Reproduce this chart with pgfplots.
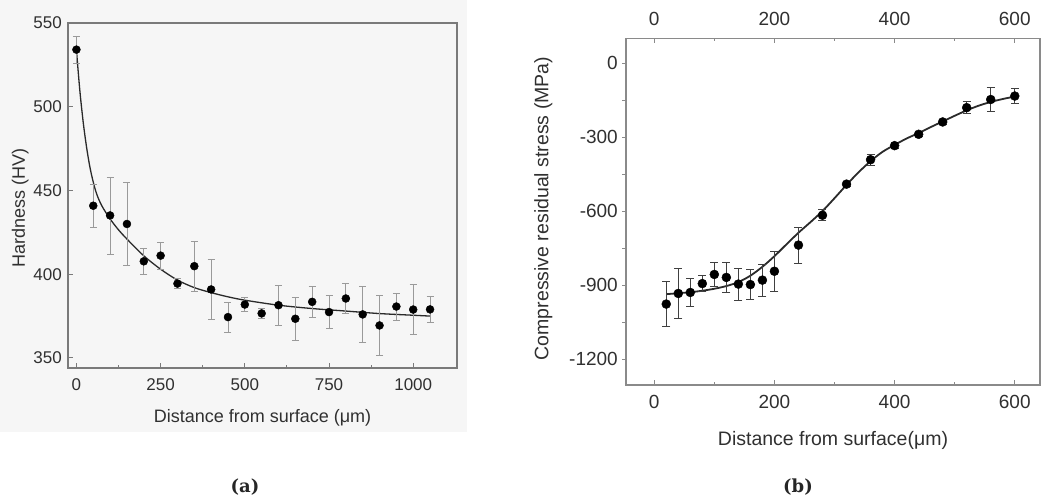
\documentclass[border=0pt]{standalone}
\usepackage{fontspec}
\setmainfont{Liberation Sans}
\newfontfamily\capfont{DejaVu Serif}
\usepackage{pgfplots}
\pgfplotsset{compat=1.18}
\definecolor{txt}{HTML}{303030}
\definecolor{bgA}{HTML}{F6F6F6}
\definecolor{axA}{HTML}{7A7A7A}
\definecolor{axB}{HTML}{8A8A8A}
\definecolor{errA}{HTML}{9A9A9A}
\definecolor{errB}{HTML}{404040}
\definecolor{curve}{HTML}{2A2A2A}

\begin{document}
\begin{tikzpicture}[x=1pt,y=1pt]
\path[use as bounding box] (0,0) rectangle (1045,-500);
\fill[bgA] (0,0) rectangle (467,-432);

% ---------------- panel (a) ----------------
\begin{axis}[
  at={(68pt,-368pt)}, anchor=south west, scale only axis,
  width=389pt, height=345pt,
  xmin=-25, xmax=1130, ymin=344, ymax=550,
  axis line style={draw=axA, line width=1.4pt},
  tick style={draw=axA, line width=1pt},
  tick align=inside, xtick pos=bottom, ytick pos=left,
  major tick length=5pt, minor tick length=3pt,
  xtick={0,250,500,750,1000}, minor x tick num=1,
  ytick={350,400,450,500,550},
  /pgf/number format/assume math mode=true,
  /pgf/number format/1000 sep={},
  tick label style={font=\fontsize{17}{20}\selectfont, text=txt, inner sep=0pt},
  xticklabel style={anchor=base, yshift=-22pt},
  yticklabel style={anchor=east, xshift=-6pt},
  xlabel={Distance from surface (μm)},
  ylabel={Hardness (HV)},
  label style={font=\fontsize{18}{21}\selectfont, text=txt, inner sep=0pt},
  xlabel style={at={(axis description cs:0.5,0)}, anchor=base, yshift=-54pt},
  ylabel style={at={([xshift=-43pt]axis description cs:0,0.464)}, anchor=base},
  clip=false,
]
\addplot[curve, line width=1.3pt, smooth, tension=0.5] coordinates {
 (0,534) (10,510) (20,491) (30,476) (40,464) (50,455) (60,448) (75,441)
 (100,433) (125,426.5) (150,421) (200,411) (250,403) (300,396.5) (350,392)
 (400,389) (450,386.5) (500,384.5) (600,381.5) (700,379.5) (800,378)
 (900,376.5) (1000,375.5) (1050,375)};
\addplot[only marks, mark=none,
  error bars/.cd, y dir=both, y explicit,
  error bar style={draw=errA, line width=0.8pt},
  error mark options={rotate=90, mark size=3.5pt, draw=errA, line width=0.8pt}]
 coordinates {
 (0,534.1) +- (0,8)
 (50,440.9) +- (0,13)
 (100,435.1) +- (0,23)
 (150,430) +- (0,25)
 (200,407.7) +- (0,8)
 (250,411.1) +- (0,8)
 (300,394.4) +- (0,3)
 (350,404.8) +- (0,15)
 (400,390.9) +- (0,18)
 (450,374.4) +- (0,9)
 (500,381.9) +- (0,4)
 (550,376.6) +- (0,3)
 (600,381.5) +- (0,12)
 (650,373.4) +- (0,13)
 (700,383.5) +- (0,9)
 (750,377.4) +- (0,10)
 (800,385.5) +- (0,9)
 (850,376) +- (0,17)
 (900,369.4) +- (0,18)
 (950,380.7) +- (0,8)
 (1000,378.9) +- (0,15)
 (1050,379) +- (0,8)};
\addplot[only marks, mark=*, mark size=4pt, mark options={fill=black, draw=black}] coordinates {
 (0,534.1) (50,440.9) (100,435.1) (150,430) (200,407.7) (250,411.1)
 (300,394.4) (350,404.8) (400,390.9) (450,374.4) (500,381.9) (550,376.6)
 (600,381.5) (650,373.4) (700,383.5) (750,377.4) (800,385.5) (850,376)
 (900,369.4) (950,380.7) (1000,378.9) (1050,379)};
\end{axis}

% ---------------- panel (b) ----------------
\begin{axis}[
  at={(626pt,-385pt)}, anchor=south west, scale only axis,
  width=414pt, height=346.7pt,
  xmin=-47, xmax=642, ymin=-1305, ymax=100,
  axis line style={draw=axB, line width=1.2pt},
  tick style={draw=axB, line width=0.9pt},
  tick align=inside, xtick pos=both, ytick pos=left,
  ytick style={xshift=-4pt},
  major tick length=5pt, minor tick length=3pt,
  xtick={0,200,400,600}, minor x tick num=1,
  ytick={-1200,-900,-600,-300,0}, yticklabels={-1200,-900,-600,-300,0},
  minor y tick num=1,
  /pgf/number format/assume math mode=true,
  tick label style={font=\fontsize{19}{22}\selectfont, text=txt, inner sep=0pt},
  xticklabel style={anchor=base, yshift=-23.3pt},
  yticklabel style={anchor=east, xshift=-8pt},
  xlabel={Distance from surface(μm)},
  ylabel={Compressive residual stress (MPa)},
  label style={font=\fontsize{19.5}{22}\selectfont, text=txt, inner sep=0pt},
  xlabel style={at={(axis description cs:0.5,0)}, anchor=base, yshift=-60.7pt},
  ylabel style={at={([xshift=-77.7pt]axis description cs:0,0.509)}, anchor=base},
  clip=false,
]
\addplot[curve, line width=1.8pt, smooth, tension=0.5] coordinates {
 (20,-937) (40,-933) (60,-929) (80,-923) (100,-915) (120,-904) (140,-888)
 (160,-862) (180,-826) (200,-783) (220,-735) (240,-688) (260,-645)
 (280,-600) (300,-548) (320,-494) (340,-443) (360,-398) (380,-360)
 (400,-332) (420,-306) (440,-284) (460,-260) (480,-237) (500,-214)
 (520,-192) (540,-173) (560,-158) (580,-146) (600,-136)};
\addplot[only marks, mark=none,
  error bars/.cd, y dir=both, y explicit,
  error bar style={draw=errB, line width=1pt},
  error mark options={rotate=90, mark size=4pt, draw=errB, line width=1pt}]
 coordinates {
 (20,-977) +- (0,92)
 (40,-934) +- (0,100)
 (60,-930) +- (0,57)
 (80,-894) +- (0,33)
 (100,-857) +- (0,50)
 (120,-869) +- (0,60)
 (140,-896) +- (0,65)
 (160,-898) +- (0,60)
 (180,-880) +- (0,65)
 (200,-844) +- (0,82)
 (240,-738) +- (0,73)
 (280,-617) +- (0,22)
 (320,-491) +- (0,10)
 (360,-392) +- (0,22)
 (400,-335) +- (0,10)
 (440,-289) +- (0,8)
 (480,-239) +- (0,10)
 (520,-181) +- (0,25)
 (560,-148) +- (0,47)
 (600,-134) +- (0,32)};
\addplot[only marks, mark=*, mark size=4.5pt, mark options={fill=black, draw=black}] coordinates {
 (20,-977) (40,-934) (60,-930) (80,-894) (100,-857) (120,-869) (140,-896)
 (160,-898) (180,-880) (200,-844) (240,-738) (280,-617) (320,-491)
 (360,-392) (400,-335) (440,-289) (480,-239) (520,-181) (560,-148) (600,-134)};
\end{axis}
% top tick labels of panel (b)
\begin{axis}[
  at={(626pt,-385pt)}, anchor=south west, scale only axis,
  width=414pt, height=346.7pt,
  xmin=-47, xmax=642, ymin=-1305, ymax=100,
  hide y axis, axis line style={draw=none},
  major tick length=0pt, xtick={0,200,400,600},
  xticklabel pos=upper,
  /pgf/number format/assume math mode=true,
  tick label style={font=\fontsize{19}{22}\selectfont, text=txt, inner sep=0pt},
  xticklabel style={anchor=base, yshift=12.3pt},
]
\end{axis}

\node[font=\capfont\bfseries\fontsize{18}{21}\selectfont, text=black!85] at (245,-487) {(a)};
\node[font=\capfont\bfseries\fontsize{18}{21}\selectfont, text=black!85] at (798,-487) {(b)};
\end{tikzpicture}
\end{document}
